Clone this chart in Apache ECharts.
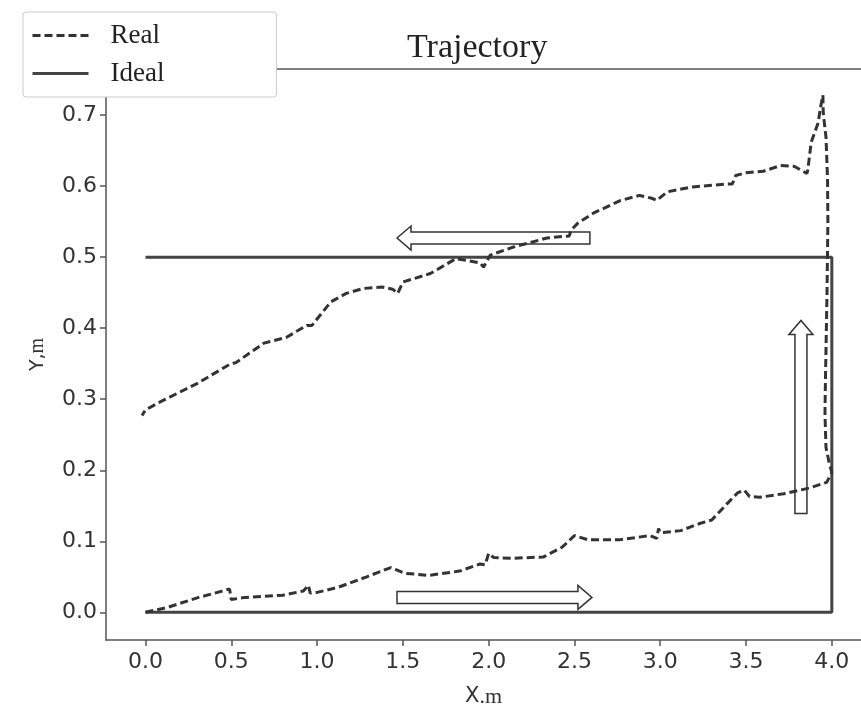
<!DOCTYPE html>
<html><head><meta charset="utf-8">
<script src="https://cdn.jsdelivr.net/npm/echarts@6/dist/echarts.min.js"></script>
<style>html,body{margin:0;padding:0;background:#fff}#c{width:861px;height:713px}</style>
</head><body><div id="c"></div>
<script>
// ---- data ----
const xTicks = [0, 0.5, 1, 1.5, 2, 2.5, 3, 3.5, 4];
const yTicks = [0, 0.1, 0.2, 0.3, 0.4, 0.5, 0.6, 0.7];
const idealX = [0, 4, 4, 0];
const idealY = [0, 0, 0.5, 0.5];
// Real path: bottom leg (left->right), up the right side, spike, back along the top (right->left)
const realX = [
  0, 0.13, 0.31, 0.45, 0.49, 0.50, 0.58, 0.80, 0.92, 0.95, 0.96, 1.00, 1.12, 1.29, 1.43, 1.46, 1.51, 1.65, 1.83, 1.95, 1.98, 2.00, 2.03, 2.14, 2.32, 2.43, 2.50, 2.58, 2.76, 2.94, 2.98, 2.99, 3.00, 3.12, 3.23, 3.30, 3.39, 3.45, 3.49, 3.52, 3.58, 3.72, 3.87, 3.97, 4.00,
  3.985, 3.966, 3.96, 3.963, 3.972, 3.977, 3.975, 3.966, 3.95, 3.948, 3.935, 3.92, 3.88, 3.86, 3.855,
  3.78, 3.70, 3.60, 3.50, 3.44, 3.42, 3.39, 3.19, 3.04, 2.98, 2.95, 2.88, 2.77, 2.61, 2.52, 2.48, 2.47, 2.34, 2.14, 2.01, 1.97, 1.95, 1.81, 1.66, 1.50, 1.47, 1.44, 1.38, 1.27, 1.17, 1.08, 0.99, 0.97, 0.94, 0.82, 0.69, 0.53, 0.49, 0.30, 0.10, 0.00, -0.02
];
const realY = [
  0, 0.007, 0.021, 0.030, 0.033, 0.018, 0.021, 0.024, 0.030, 0.038, 0.027, 0.028, 0.035, 0.050, 0.063, 0.060, 0.055, 0.052, 0.058, 0.068, 0.067, 0.083, 0.077, 0.076, 0.078, 0.092, 0.108, 0.102, 0.102, 0.108, 0.104, 0.118, 0.112, 0.115, 0.125, 0.130, 0.153, 0.168, 0.172, 0.163, 0.162, 0.167, 0.175, 0.183, 0.197,
  0.210, 0.232, 0.280, 0.330, 0.450, 0.550, 0.610, 0.669, 0.703, 0.728, 0.712, 0.689, 0.662, 0.623, 0.618,
  0.628, 0.629, 0.621, 0.619, 0.615, 0.603, 0.603, 0.599, 0.592, 0.580, 0.583, 0.587, 0.580, 0.562, 0.548, 0.538, 0.530, 0.527, 0.514, 0.503, 0.486, 0.492, 0.498, 0.477, 0.465, 0.449, 0.455, 0.458, 0.456, 0.449, 0.437, 0.410, 0.404, 0.404, 0.387, 0.379, 0.352, 0.349, 0.322, 0.298, 0.285, 0.277
];
// direction arrows (data coordinates): tail -> tip
const arrowTail = [[2.59, 0.527], [1.466, 0.021], [3.82, 0.139]];
const arrowTip  = [[1.466, 0.527], [2.602, 0.021], [3.82, 0.411]];

// ---- build ----
const realData = realX.map((x, i) => [x, realY[i]]);
const idealData = idealX.map((x, i) => [x, idealY[i]]);
const arrowData = arrowTail.map((t, i) => [t[0], t[1], arrowTip[i][0], arrowTip[i][1]]);

const chart = echarts.init(document.getElementById('c'), null, {renderer: 'canvas'});
const tickFont = {fontFamily: 'DejaVu Sans', fontSize: 22, color: '#333'};
const axisCol = '#555';
const X_MIN = -0.23, X_MAX = 4.17;

chart.setOption({
  animation: false,
  backgroundColor: '#fff',
  title: {
    text: 'Trajectory', left: 402, top: 26,
    textStyle: {fontFamily: 'Liberation Serif', fontSize: 34, fontWeight: 'normal', color: '#222'}
  },
  legend: {
    data: ['Real', 'Ideal'], orient: 'vertical', left: 23, top: 12,
    itemWidth: 56, itemHeight: 14, itemGap: 11,
    padding: [10, 112, 10, 8],
    backgroundColor: '#fff', borderColor: '#ccc', borderWidth: 1, borderRadius: 3,
    itemStyle: {opacity: 0},
    lineStyle: {width: 3},
    textStyle: {fontFamily: 'Liberation Serif', fontSize: 27, color: '#222', padding: [0, 0, 0, 17]}
  },
  grid: {left: 106, top: 69, width: 755, height: 571, show: false},
  xAxis: [{
    type: 'value', min: X_MIN, max: X_MAX,
    splitLine: {show: false},
    axisLine: {onZero: false, lineStyle: {color: axisCol, width: 1.5}},
    axisTick: {customValues: xTicks, length: 6, lineStyle: {color: axisCol, width: 1.5}},
    axisLabel: Object.assign({customValues: xTicks, margin: 11, formatter: v => v.toFixed(1)}, tickFont),
    name: '{a|X}{b|.m}', nameLocation: 'middle', nameGap: 46,
    nameTextStyle: {rich: {a: {fontFamily: 'DejaVu Sans', fontSize: 21, color: '#333'}, b: {fontFamily: 'Liberation Serif', fontSize: 22, color: '#333'}}}
  }, {
    type: 'value', position: 'top', min: X_MIN, max: X_MAX,
    splitLine: {show: false},
    axisLine: {onZero: false, lineStyle: {color: axisCol, width: 1.5}},
    axisTick: {show: false}, axisLabel: {show: false}
  }],
  yAxis: {
    type: 'value', min: -0.039, max: 0.765,
    splitLine: {show: false},
    axisLine: {onZero: false, lineStyle: {color: axisCol, width: 1.5}},
    axisTick: {customValues: yTicks, length: 6, lineStyle: {color: axisCol, width: 1.5}},
    axisLabel: Object.assign({customValues: yTicks, margin: 9, formatter: v => v.toFixed(1)}, tickFont),
    name: '{a|Y,}{b|m}', nameLocation: 'middle', nameGap: 58,
    nameTextStyle: {rich: {a: {fontFamily: 'DejaVu Sans', fontSize: 19, color: '#333'}, b: {fontFamily: 'Liberation Serif', fontSize: 20, color: '#333'}}}
  },
  series: [
    {
      name: 'arrows', type: 'custom', z: 1, silent: true,
      encode: {x: [0, 2], y: [1, 3]},
      data: arrowData,
      renderItem: function (params, api) {
        const a = api.coord([api.value(0), api.value(1)]);
        const b = api.coord([api.value(2), api.value(3)]);
        const dx = b[0] - a[0], dy = b[1] - a[1];
        const L = Math.sqrt(dx * dx + dy * dy);
        const ux = dx / L, uy = dy / L, nx = -uy, ny = ux;
        const hw = 6, HW = 12, HL = 14;
        const hb = [b[0] - ux * HL, b[1] - uy * HL];
        const pts = [
          [a[0] + nx * hw, a[1] + ny * hw],
          [hb[0] + nx * hw, hb[1] + ny * hw],
          [hb[0] + nx * HW, hb[1] + ny * HW],
          [b[0], b[1]],
          [hb[0] - nx * HW, hb[1] - ny * HW],
          [hb[0] - nx * hw, hb[1] - ny * hw],
          [a[0] - nx * hw, a[1] - ny * hw]
        ];
        return {type: 'polygon', shape: {points: pts}, style: {fill: '#fff', stroke: '#333', lineWidth: 1.5}};
      }
    },
    {
      name: 'Real', type: 'line', z: 3, data: realData, symbol: 'none', smooth: false,
      lineStyle: {color: '#333', width: 3, type: [8, 4]},
      itemStyle: {color: '#333'}
    },
    {
      name: 'Ideal', type: 'line', z: 2, data: idealData, symbol: 'none',
      lineStyle: {color: '#444', width: 3, type: 'solid'},
      itemStyle: {color: '#444'}
    }
  ]
});
</script>
</body></html>
